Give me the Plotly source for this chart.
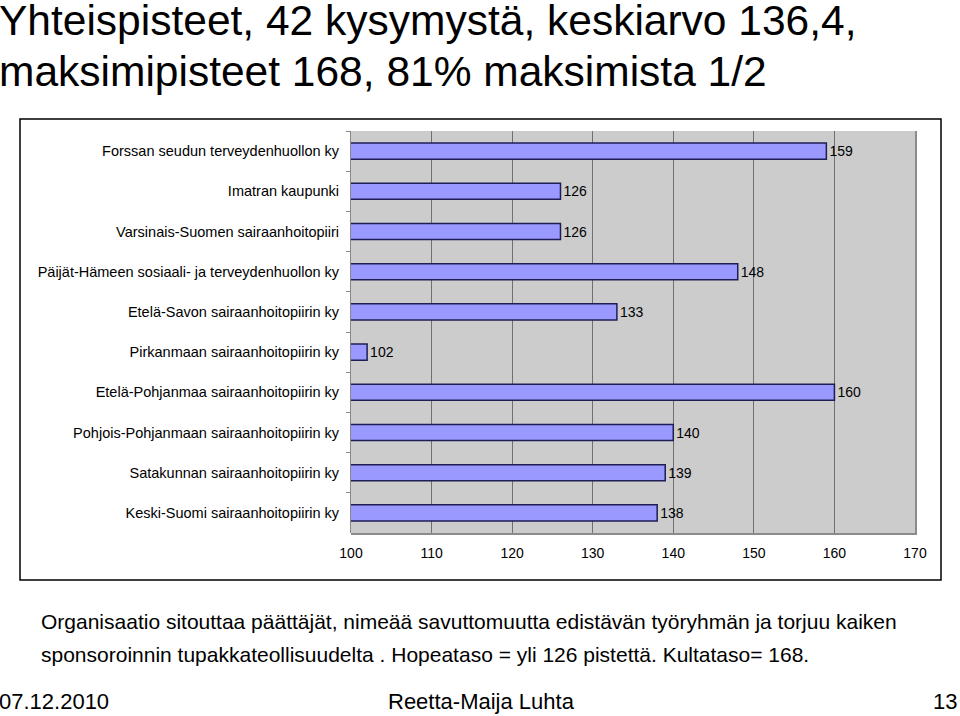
import plotly.graph_objects as go

# ── Data ─────────────────────────────────────────────────────────
organisations = [
    "Forssan seudun terveydenhuollon ky",
    "Imatran kaupunki",
    "Varsinais-Suomen sairaanhoitopiiri",
    "Päijät-Hämeen sosiaali- ja terveydenhuollon ky",
    "Etelä-Savon sairaanhoitopiirin ky",
    "Pirkanmaan sairaanhoitopiirin ky",
    "Etelä-Pohjanmaa sairaanhoitopiirin ky",
    "Pohjois-Pohjanmaan sairaanhoitopiirin ky",
    "Satakunnan sairaanhoitopiirin ky",
    "Keski-Suomi sairaanhoitopiirin ky",
]
points = [159, 126, 126, 148, 133, 102, 160, 140, 139, 138]
x_ticks = [100, 110, 120, 130, 140, 150, 160, 170]

title_lines = [
    "Yhteispisteet, 42 kysymystä, keskiarvo 136,4,",
    "maksimipisteet 168, 81% maksimista 1/2",
]
note_lines = [
    "Organisaatio sitouttaa päättäjät, nimeää savuttomuutta edistävän työryhmän ja torjuu kaiken",
    "sponsoroinnin tupakkateollisuudelta . Hopeataso = yli 126 pistettä. Kultataso= 168.",
]
footer_date = "07.12.2010"
footer_author = "Reetta-Maija Luhta"
footer_page = "13"

W, H = 960, 716
FONT = "Liberation Sans, Arial, sans-serif"


def px(x):
    return x / W


def py(y):
    return 1 - y / H


fig = go.Figure()
fig.add_trace(
    go.Bar(
        x=points,
        y=organisations,
        orientation="h",
        base=0,
        width=0.4,
        marker=dict(color="#9999FF", line=dict(color="#1E1E55", width=1.5)),
        text=[str(p) for p in points],
        textposition="outside",
        textfont=dict(size=14, color="black", family=FONT),
        cliponaxis=False,
        hoverinfo="skip",
    )
)

# 3D wall shadow on right/bottom edge of the plot area
fig.add_shape(type="line", xref="paper", yref="paper",
              x0=px(916), x1=px(916), y0=py(534), y1=py(131),
              line=dict(color="#8C8C8C", width=2), layer="below")
fig.add_shape(type="line", xref="paper", yref="paper",
              x0=px(351), x1=px(917), y0=py(534), y1=py(534),
              line=dict(color="#8C8C8C", width=2), layer="below")
# outer chart frame
fig.add_shape(type="rect", xref="paper", yref="paper",
              x0=px(20), x1=px(941), y0=py(580), y1=py(119),
              line=dict(color="black", width=1.5))

# ── Texts ────────────────────────────────────────────────────────
for i, line in enumerate(title_lines):
    fig.add_annotation(text=line, xref="paper", yref="paper",
                       x=px(-3), y=py(20 + 51 * i), xanchor="left", yanchor="middle",
                       showarrow=False, font=dict(size=42.5, color="black", family=FONT))
for i, line in enumerate(note_lines):
    fig.add_annotation(text=line, xref="paper", yref="paper",
                       x=px(39), y=py(621 + 33 * i), xanchor="left", yanchor="middle",
                       showarrow=False, font=dict(size=21, color="black", family=FONT))
fig.add_annotation(text=footer_date, xref="paper", yref="paper", x=px(-3), y=py(701),
                   xanchor="left", yanchor="middle", showarrow=False,
                   font=dict(size=22, color="black", family=FONT))
fig.add_annotation(text=footer_author, xref="paper", yref="paper", x=px(481), y=py(701),
                   xanchor="center", yanchor="middle", showarrow=False,
                   font=dict(size=22, color="black", family=FONT))
fig.add_annotation(text=footer_page, xref="paper", yref="paper", x=px(959), y=py(701),
                   xanchor="right", yanchor="middle", showarrow=False,
                   font=dict(size=22, color="black", family=FONT))

fig.update_layout(
    width=W,
    height=H,
    margin=dict(l=0, r=0, t=0, b=0, pad=0, autoexpand=False),
    paper_bgcolor="white",
    plot_bgcolor="#CCCCCC",
    showlegend=False,
    xaxis=dict(
        domain=[px(351), px(915)],
        range=[100, 170],
        tickvals=x_ticks,
        ticks="",
        showgrid=True,
        gridcolor="#707070",
        gridwidth=1,
        zeroline=False,
        showline=False,
        tickfont=dict(size=14, color="black", family=FONT),
        ticklabelstandoff=10,
    ),
    yaxis=dict(
        domain=[py(533), py(131)],
        autorange="reversed",
        type="category",
        ticks="outside",
        ticklen=4,
        tickcolor="#888888",
        tickson="boundaries",
        showgrid=False,
        showline=True,
        linecolor="#888888",
        linewidth=1,
        tickfont=dict(size=14.5, color="black", family=FONT),
        ticklabelstandoff=8,
    ),
)

fig.write_html(
    "out.html",
    config={"displayModeBar": False},
    post_script="document.body.style.margin='0';document.body.style.overflow='hidden';",
)
